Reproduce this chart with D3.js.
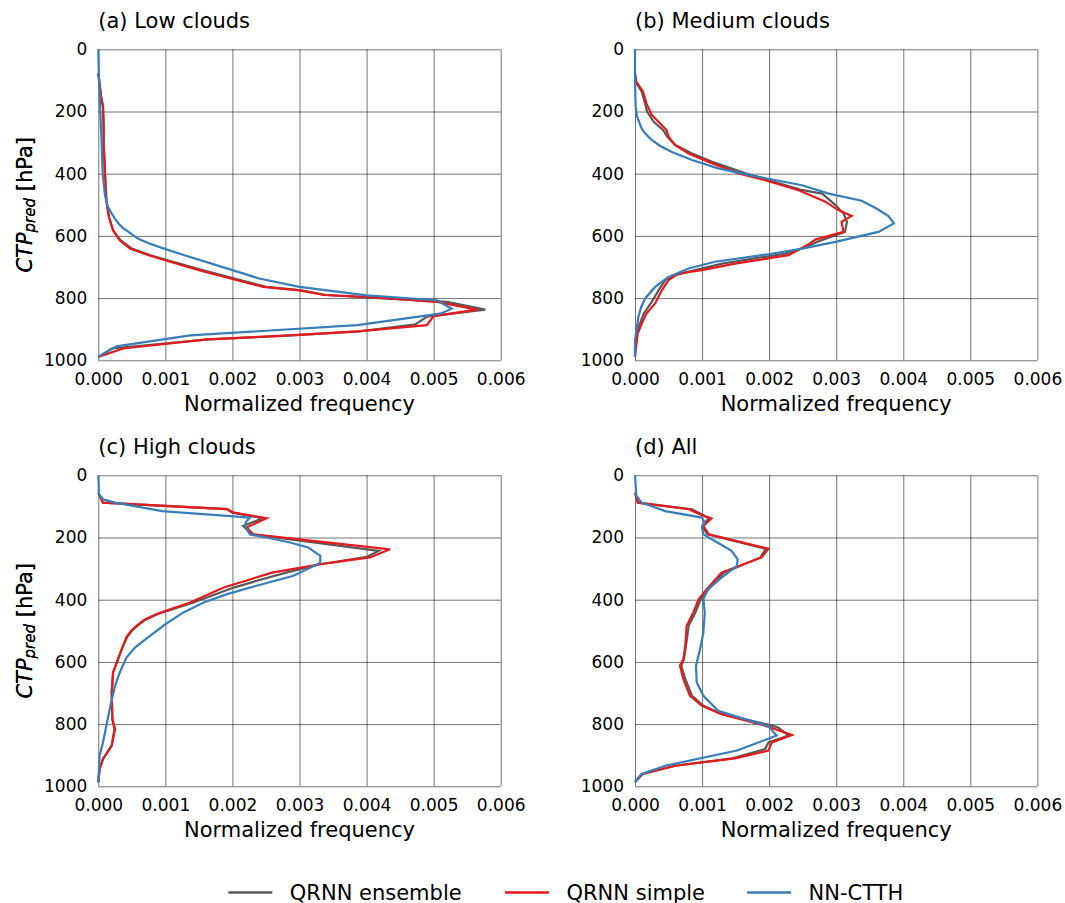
<!DOCTYPE html>
<html>
<head>
<meta charset="utf-8">
<script src="https://cdn.jsdelivr.net/npm/d3@7"></script>
<style>
  html, body { margin: 0; padding: 0; background: #fff; }
  svg { display: block; font-family: "DejaVu Sans", sans-serif; }
</style>
</head>
<body>
<svg id="chart" width="1065" height="903"></svg>
<script>
// ---------- data: [pressure hPa, normalized frequency] ----------
const xTicks = [0, 0.001, 0.002, 0.003, 0.004, 0.005, 0.006];
const yTicks = [0, 200, 400, 600, 800, 1000];
const seriesNames = ["QRNN ensemble", "QRNN simple", "NN-CTTH"];
const panelTitles = ["(a) Low clouds", "(b) Medium clouds", "(c) High clouds", "(d) All"];

const lowEnsemble = [[77,0],[150,0.00004],[185,0.00007],[250,0.00008],[300,0.00008],[400,0.0001],[485,0.00012],[540,0.00016],[582,0.00022],[614,0.00033],[641,0.0005],[662,0.00078],[680,0.00106],[710,0.00155],[737,0.00203],[764,0.0025],[775,0.00303],[790,0.0034],[798,0.004],[812,0.0052],[837,0.00577],[860,0.0049],[884,0.00473],[907,0.0039],[920,0.00288],[933,0.00165],[962,0.0002],[989,0]];
const lowSimple = [[77,0],[150,0.00004],[185,0.00007],[250,0.00008],[300,0.00008],[400,0.0001],[485,0.00012],[540,0.00016],[582,0.00022],[614,0.00032],[641,0.00047],[662,0.00075],[680,0.00102],[710,0.0015],[737,0.00197],[764,0.00246],[775,0.003],[790,0.00336],[796,0.004],[812,0.00505],[837,0.00565],[858,0.005],[887,0.0049],[907,0.00386],[920,0.00286],[933,0.00162],[962,0.00037],[989,0]];
const lowNN = [[0,0],[100,0.00001],[200,0.00003],[300,0.00005],[400,0.000065],[470,0.0001],[505,0.00014],[528,0.0002],[545,0.00025],[560,0.0003],[575,0.00037],[587,0.00045],[600,0.00053],[612,0.00062],[625,0.00077],[640,0.00097],[660,0.00125],[678,0.00152],[710,0.002],[737,0.0024],[764,0.003],[791,0.004],[807,0.00505],[834,0.00527],[850,0.0051],[887,0.00386],[920,0.00137],[955,0.00027],[989,0]];

const medEnsemble = [[77,0],[104,0.00001],[136,0.0001],[174,0.00015],[200,0.00018],[233,0.00028],[260,0.00042],[281,0.00048],[308,0.0006],[335,0.00085],[362,0.00115],[399,0.00165],[421,0.002],[453,0.0025],[464,0.00279],[501,0.00299],[528,0.00311],[555,0.00316],[587,0.00313],[617,0.00274],[640,0.0025],[657,0.00224],[689,0.0013],[710,0.0009],[726,0.0006],[742,0.00045],[775,0.00035],[812,0.00025],[850,0.00013],[900,0.00004],[960,0],[989,0]];
const medSimple = [[77,0],[104,0.00002],[136,0.00012],[174,0.00017],[211,0.00025],[233,0.00035],[260,0.00047],[281,0.0005],[308,0.0006],[335,0.0008],[362,0.0011],[399,0.00154],[421,0.00194],[453,0.00244],[490,0.00284],[517,0.00303],[536,0.00323],[555,0.00308],[587,0.00311],[612,0.00269],[627,0.00259],[662,0.00229],[689,0.00149],[710,0.001],[721,0.00065],[742,0.0005],[775,0.0004],[817,0.0003],[850,0.00017],[882,0.0001],[914,0.00004],[968,0.00001],[989,0]];
const medNN = [[0,0],[100,0],[185,0.00001],[215,0.00003],[238,0.00007],[255,0.0001],[270,0.00015],[290,0.00024],[310,0.00037],[330,0.00055],[356,0.00085],[383,0.00124],[410,0.00184],[437,0.00249],[464,0.00289],[487,0.00338],[512,0.0036],[536,0.00378],[560,0.00386],[587,0.00363],[619,0.00299],[641,0.00249],[659,0.00199],[683,0.00119],[705,0.0008],[732,0.0005],[764,0.0003],[801,0.00015],[830,0.00009],[861,0.00005],[936,0],[989,0]];

const highEnsemble = [[56,0],[88,0.00007],[109,0.00192],[120,0.002],[138,0.00245],[163,0.00216],[190,0.00229],[243,0.00418],[262,0.00401],[286,0.00331],[313,0.0028],[340,0.00235],[361,0.00202],[409,0.00142],[430,0.00112],[446,0.00089],[465,0.0007],[484,0.00058],[500,0.0005],[520,0.00043],[559,0.00035],[634,0.00022],[700,0.0002],[784,0.00021],[816,0.00024],[869,0.0002],[912,0.00007],[944,0.00002],[987,0]];
const highSimple = [[56,0],[88,0.00007],[109,0.00192],[120,0.00202],[138,0.00251],[168,0.00221],[190,0.00231],[238,0.00435],[264,0.00405],[286,0.00331],[313,0.00259],[361,0.00187],[409,0.00137],[430,0.00108],[446,0.00087],[465,0.00068],[484,0.00057],[500,0.00049],[520,0.00042],[559,0.00035],[634,0.00022],[700,0.0002],[784,0.00021],[816,0.00025],[869,0.0002],[912,0.00007],[944,0.00002],[987,0]];
const highNN = [[0,0],[61,0.00001],[77,0.00007],[88,0.00025],[115,0.00095],[131,0.00197],[136,0.00226],[150,0.0022],[163,0.00219],[190,0.00226],[200,0.00251],[216,0.00286],[232,0.00313],[259,0.00331],[281,0.00331],[297,0.00316],[323,0.00291],[355,0.00236],[382,0.00192],[409,0.00157],[441,0.00127],[479,0.001],[516,0.00077],[553,0.00055],[586,0.00042],[634,0.00032],[677,0.00025],[741,0.00018],[805,0.00012],[827,0.0001],[859,0.00007],[901,0.00002],[987,0]];

const allEnsemble = [[56,0],[88,0.00004],[109,0.00085],[128,0.00102],[139,0.0011],[163,0.001],[190,0.00108],[236,0.00195],[264,0.00187],[313,0.00132],[366,0.0011],[398,0.00098],[441,0.0009],[484,0.0008],[548,0.00076],[591,0.00073],[612,0.00069],[655,0.00075],[709,0.00085],[741,0.00102],[768,0.0013],[805,0.00205],[812,0.00214],[837,0.00229],[859,0.00199],[880,0.00194],[910,0.00145],[934,0.0006],[960,0.00012],[987,0]];
const allSimple = [[56,0],[88,0.00005],[109,0.0008],[128,0.001],[139,0.00114],[163,0.00102],[190,0.0011],[236,0.00199],[264,0.00189],[313,0.00129],[366,0.00107],[398,0.00095],[441,0.00087],[484,0.00077],[548,0.00075],[591,0.00072],[612,0.00067],[655,0.00072],[709,0.00082],[741,0.001],[768,0.00129],[805,0.00194],[835,0.00234],[859,0.00204],[885,0.00199],[910,0.00149],[934,0.0006],[960,0.0001],[987,0]];
const allNN = [[0,0],[66,0.00002],[88,0.0001],[115,0.00045],[136,0.001],[152,0.00104],[168,0.001],[190,0.00102],[211,0.00119],[243,0.00144],[270,0.00153],[291,0.00152],[329,0.00129],[366,0.00109],[398,0.00102],[441,0.00104],[505,0.00102],[559,0.00097],[612,0.00091],[666,0.00092],[709,0.00102],[757,0.00124],[784,0.00164],[807,0.00199],[837,0.00211],[885,0.00152],[934,0.00045],[960,0.0001],[987,0]];

const panelData = [
  [lowEnsemble, lowSimple, lowNN],
  [medEnsemble, medSimple, medNN],
  [highEnsemble, highSimple, highNN],
  [allEnsemble, allSimple, allNN]
];

// ---------- layout / style ----------
const colors = ["#595959", "#e41a1c", "#377eb8"];
const panelLeft = [98.3, 635];
const panelTop = [49.3, 475.3];
const pw = 402.4, ph = 311;

const svg = d3.select("#chart");

panelData.forEach((series, i) => {
  const col = i % 2, row = Math.floor(i / 2);
  const L = panelLeft[col], T = panelTop[row];
  const x = d3.scaleLinear().domain([0, 0.006]).range([L, L + pw]);
  const y = d3.scaleLinear().domain([0, 1000]).range([T, T + ph]);
  const g = svg.append("g");

  const xa = g.append("g").attr("transform", `translate(0,${T + ph})`)
    .call(d3.axisBottom(x).tickValues(xTicks).tickFormat(d3.format(".3f"))
      .tickSize(-ph).tickPadding(13));
  const ya = g.append("g").attr("transform", `translate(${L},0)`)
    .call(d3.axisLeft(y).tickValues(yTicks).tickFormat(d3.format("d"))
      .tickSize(-pw).tickPadding(11));
  [xa, ya].forEach(a => {
    a.select(".domain").remove();
    a.selectAll(".tick line").attr("stroke", "#000").attr("stroke-opacity", 0.55).attr("stroke-width", 1);
    a.selectAll(".tick text").attr("fill", "#000").style("font-size", "17px")
      .style("font-family", "DejaVu Sans, sans-serif");
  });

  const line = d3.line().x(d => x(d[1])).y(d => y(d[0]));
  series.forEach((s, k) => {
    g.append("path").datum(s).attr("d", line)
      .attr("fill", "none").attr("stroke", colors[k])
      .attr("stroke-width", 2.2).attr("stroke-linejoin", "miter");
  });

  g.append("text").attr("x", L).attr("y", T - 21)
    .style("font-size", "21px").text(panelTitles[i]);

  g.append("text").attr("x", L + pw / 2).attr("y", T + ph + 51)
    .attr("text-anchor", "middle").style("font-size", "21px").text("Normalized frequency");

  const yl = g.append("text")
    .attr("transform", `translate(${31.5},${T + ph / 2}) rotate(-90)`)
    .attr("text-anchor", "middle").style("font-size", "21px");
  yl.append("tspan").style("font-style", "italic").text("CTP");
  yl.append("tspan").style("font-style", "italic").style("font-size", "15px").attr("dy", 3).text("pred");
  yl.append("tspan").attr("dy", -3).text(" [hPa]");
});

// legend
const legendX = [228.3, 505, 747];
const lg = svg.append("g");
seriesNames.forEach((name, k) => {
  lg.append("line").attr("x1", legendX[k]).attr("x2", legendX[k] + 44)
    .attr("y1", 892.5).attr("y2", 892.5)
    .attr("stroke", colors[k]).attr("stroke-width", 2.5);
  lg.append("text").attr("x", legendX[k] + 61.5).attr("y", 899.5)
    .style("font-size", "21px").text(name);
});
</script>
</body>
</html>
